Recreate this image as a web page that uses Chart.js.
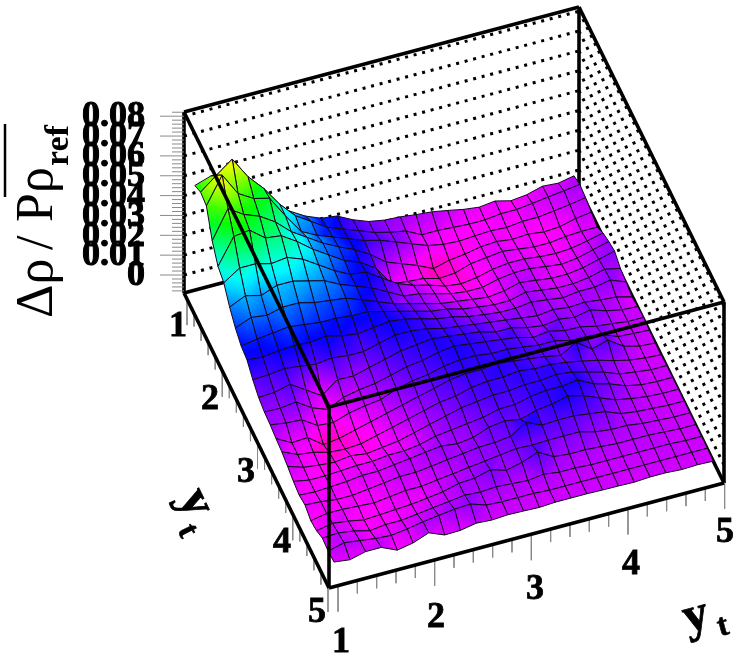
<!DOCTYPE html>
<html>
<head>
<meta charset="utf-8">
<style>
  html, body { margin: 0; padding: 0; background: #fff; }
  canvas { display: block; }
</style>
<script src="https://cdn.jsdelivr.net/npm/chart.js@4"></script>
</head>
<body>
<canvas id="myChart" width="738" height="657"></canvas>
<script>
// * Data: surface height in units of 0.001.
// The plot is symmetric in the two y_t axes, so each row starts on the diagonal.
const row00 = [47, 49.6, 48.6, 37, 30, 27.7, 21.4, 16.8, 13.6, 12.6, 8.6, 5.6, 4.2, 3.7, 2.7, 2, 0.6, -1, -2, -1, -3, -2.1, 0.1, -0.5, 1.1];
const row01 = [56, 62, 51, 43, 33, 25, 20, 15, 12, 9, 6, 4, 2.5, -1.5, -1.5, -2, -2.5, -2.5, -1.5, -1.5, -0.5, 0.6, 1.6, 2.7];
const row02 = [50.6, 46, 44, 33, 23, 19, 16, 13, 10, 8, 5, 2, -1, -2.5, -3, -2.5, -2, -2.5, -1.5, -1.5, -0.5, 0.6, 2];
const row03 = [43, 38, 31, 26, 21, 17, 13.5, 9, 3, 0, -3, -6.7, -4.6, -3.6, -2, -1.5, -2.5, -2, -3, -2.5, -0.5, 0.6];
const row04 = [37, 32, 26, 21, 16, 13, 8, -2, -3, -3.6, -5.7, -5.1, -2.5, -1.5, -0.5, -1.5, -2.5, -2.5, -1.5, -1, -1];
const row05 = [29, 24, 19, 15, 14, 9, 4, 1, -1, -3.6, -4.6, -3.6, -1.5, -0.5, -0.5, -1.5, -2, -1.5, 0.1, 2];
const row06 = [22, 18, 15, 12, 8, 3.7, 2.7, 0.6, -1.5, -2.5, -2.5, -0.5, 0.6, 0.6, -0.5, -1.5, -0.5, 1.6, 3.7];
const row07 = [17, 14.1, 11, 7.9, 5.8, 3.7, 1.6, 0.6, -0.5, -1.5, -0.5, 1.6, 0.6, -0.5, -0.5, 0.6, 2.7, 4.8];
const row08 = [14.1, 12, 10, 7.9, 5.8, 4.8, 2.7, 1.6, 0.6, 0.6, 2.7, 1.6, 0.6, 0.6, 1.6, 3.7, 2];
const row09 = [13, 12, 10, 7.9, 6.8, 4.8, 3.7, 2.7, 2.7, 3.7, 2.7, 1.6, 2.7, 2.7, 4.2, 1.1];
const row10 = [12, 11, 9, 7.9, 6.8, 5.8, 4.8, 3.7, 2.7, 3.7, 2.7, 3.2, 2.2, 1.6, -0.5];
const row11 = [12, 11, 10, 9, 6.8, 6.8, 4.8, 3.7, 4.8, 3.7, 5.3, 2.7, 1.1, 0.6];
const row12 = [12, 11, 10, 9, 7.9, 5.8, 6.8, 5, 4.8, 3, 2.2, 1.1, 1.1];
const row13 = [11, 10, 10, 9, 7.9, 7.9, 6, 5.8, 4.8, 1.6, 1.1, 0.6];
const row14 = [11, 10, 9, 8, 6.5, 11, 5.5, 7.9, 2.7, 0.6, 0.1];
const row15 = [11, 10, 10, 9, 7.5, 5.8, 3.5, 1.6, 0.6, 0.1];
const row16 = [10, 11, 10, 7.9, 5.8, 2.7, 1.6, 0.6, 0.6];
const row17 = [11, 12, 7.9, 5.8, 2.7, 1.1, 0.6, 0.6];
const row18 = [10, 6.8, 3.7, 2.2, 1.1, 0.6, 0.6];
const row19 = [5.8, 2.7, 1.6, 1.1, 0.6, 0.6];
const row20 = [2.7, 1.6, 1.1, 0.6, 0.6];
const row21 = [1.6, 1.1, 0.6, 0.6];
const row22 = [1.1, 0.6, 0.6];
const row23 = [0.6, 0.6];
const row24 = [0.6];
// The front edge of the surface.
const frontEdge = [0, -1, 1, 1, -2.5, -1, 2, -1.2, -1, 0.5, 0, 0.5, 0.3, 0, 0.5, 0.5, 0.5, 0.3, 0.2, 0, 0.5, 0.5, 0, 0.3, 0];

const rows = [row00, row01, row02, row03, row04, row05, row06, row07, row08, row09, row10, row11, row12,
  row13, row14, row15, row16, row17, row18, row19, row20, row21, row22, row23, row24];

const axisTicks = [1, 2, 3, 4, 5];
const axisMinorTicks = [1, 1.2, 1.4, 1.6, 1.8, 2, 2.2, 2.4, 2.6, 2.8, 3, 3.2, 3.4, 3.6, 3.8, 4, 4.2, 4.4, 4.6, 4.8, 5];
const zTicks = [0, 0.01, 0.02, 0.03, 0.04, 0.05, 0.06, 0.07, 0.08];
const zTickLabels = ["0", "0.01", "0.02", "0.03", "0.04", "0.05", "0.06", "0.07", "0.08"];

// * Geometry of the oblique box
const ZFLOOR = -18 / 1985;
const ZTOP = 163 / 1985;
const UNIT = 0.001;
const CELLS = 25;

function boxPoint(u, v, z) {
  return {
    x: 184 + 395 * u + 145 * v,
    y: 293 - 105 * u + 295 * v - 18 - 1985 * z,
  };
}

function surfaceHeight(i, j) {
  if (j === CELLS - 1) return frontEdge[i] * UNIT;
  return (i >= j ? rows[j][i - j] : rows[i][j - i]) * UNIT;
}

function surfacePoint(i, j) {
  return boxPoint((i + 0.5) / CELLS, (j + 0.5) / CELLS, surfaceHeight(i, j));
}

function heightColor(z) {
  return `hsl(${Math.max(290 - 3740 * z, 40)}, 100%, 50%)`;
}

function lineSet(points, color, width, dash) {
  return {
    data: points,
    borderColor: color,
    borderWidth: width,
    borderDash: dash || [],
    borderCapStyle: "butt",
    fill: false,
    pointRadius: 0,
    tension: 0,
  };
}

function cellSet(i, j) {
  const corners = [[i, j], [i + 1, j], [i + 1, j + 1], [i, j + 1]];
  const points = corners.map((c) => surfacePoint(c[0], c[1]));
  const heights = corners.map((c) => surfaceHeight(c[0], c[1]));
  const low = heights.indexOf(Math.min(...heights));
  const high = heights.indexOf(Math.max(...heights));
  points.push(points[0]);

  return {
    data: points,
    borderColor: "#14061c",
    borderWidth: 1,
    pointRadius: 0,
    tension: 0,
    fill: "shape",
    backgroundColor: (ctx) => {
      const { x, y } = ctx.chart.scales;
      const x0 = x.getPixelForValue(points[low].x);
      const y0 = y.getPixelForValue(points[low].y);
      const x1 = x.getPixelForValue(points[high].x);
      const y1 = y.getPixelForValue(points[high].y);
      // Flat cells, and the first pass when the scales have no size yet
      if (low === high || ![x0, y0, x1, y1].every(Number.isFinite)) return heightColor(heights[low]);

      const gradient = ctx.chart.ctx.createLinearGradient(x0, y0, x1, y1);
      [0, 0.25, 0.5, 0.75, 1].forEach((t) => {
        gradient.addColorStop(t, heightColor(heights[low] + (heights[high] - heights[low]) * t));
      });
      return gradient;
    },
  };
}

// * Layers, listed from back to front
const layers = [];
const BOX = "#000";
const TICK = "#8a8a8a";

function edge(u1, v1, z1, u2, v2, z2) {
  layers.push(lineSet([boxPoint(u1, v1, z1), boxPoint(u2, v2, z2)], BOX, 3.6));
}

zTicks.forEach((z) => {
  layers.push(lineSet([boxPoint(0, 0, z), boxPoint(1, 0, z)], "#000", 3, [3, 5.8]));
  layers.push(lineSet([boxPoint(1, 0, z), boxPoint(1, 1, z)], "#000", 3, [3, 5.8]));
});

edge(0, 0, ZFLOOR, 1, 0, ZFLOOR);
edge(1, 0, ZFLOOR, 1, 1, ZFLOOR);
edge(1, 0, ZFLOOR, 1, 0, ZTOP);
edge(0, 0, ZTOP, 1, 0, ZTOP);
edge(1, 0, ZTOP, 1, 1, ZTOP);
edge(0, 0, ZFLOOR, 0, 0, ZTOP);
edge(1, 1, ZFLOOR, 1, 1, ZTOP);

// Axis ticks hang below the floor edges
function xTickBase(yt) {
  return boxPoint(0.0228 + 0.2447 * (yt - 1), 1, ZFLOOR);
}
function yTickBase(yt) {
  return boxPoint(0, 0.0207 + 0.2431 * (yt - 1), ZFLOOR);
}
axisMinorTicks.forEach((yt) => {
  const len = axisTicks.includes(yt) ? 26 : 13;
  [xTickBase(yt), yTickBase(yt)].forEach((p) => {
    layers.push(lineSet([p, { x: p.x, y: p.y + len }], TICK, 1));
  });
});
for (let k = -4; k <= 41; k++) {
  const p = boxPoint(0, 0, k * 0.002);
  const len = k % 5 === 0 ? 24 : 12;
  layers.push(lineSet([{ x: p.x - len, y: p.y }, p], TICK, 1));
}

edge(0, 0, ZFLOOR, 0, 1, ZFLOOR);
edge(0, 1, ZFLOOR, 1, 1, ZFLOOR);

// Surface, far cells first
for (let j = 0; j < CELLS - 1; j++) {
  for (let i = CELLS - 2; i >= 0; i--) {
    layers.push(cellSet(i, j));
  }
}

// Edges of the box that cross in front of the surface
edge(0, 1, ZFLOOR, 0, 1, ZTOP);
edge(0, 0, ZTOP, 0, 1, ZTOP);
edge(0, 1, ZTOP, 1, 1, ZTOP);

// Bar over rho ref in the z title
layers.push(lineSet([{ x: 5, y: 197 }, { x: 5, y: 124 }], "#000", 2.5));

// * Text
const labelPlugin = {
  id: "labels",
  afterDraw(chart) {
    const { ctx, scales } = chart;

    function text(str, px, py, font, angle, align, baseline, heavy) {
      ctx.save();
      ctx.translate(scales.x.getPixelForValue(px), scales.y.getPixelForValue(py));
      ctx.rotate(((angle || 0) * Math.PI) / 180);
      ctx.font = font;
      ctx.fillStyle = "#000";
      ctx.strokeStyle = "#000";
      ctx.lineWidth = heavy || 0;
      ctx.textAlign = align || "center";
      ctx.textBaseline = baseline || "middle";
      ctx.fillText(str, 0, 0);
      if (heavy) ctx.strokeText(str, 0, 0);
      ctx.restore();
    }

    const tickFont = "bold 36px 'Liberation Serif'";
    zTicks.forEach((z, k) => {
      const p = boxPoint(0, 0, z);
      text(zTickLabels[k], 145, p.y + 1, tickFont, 0, "right", "middle", 1);
    });
    const xLabelPos = [[341, 643], [436, 618], [535, 590], [631, 565], [725, 533]];
    const yLabelPos = [[178, 327], [210, 400], [246, 473], [282, 543], [317, 613]];
    axisTicks.forEach((t, k) => {
      text(String(t), xLabelPos[k][0], xLabelPos[k][1], tickFont, 0, "center", "middle", 0.8);
      text(String(t), yLabelPos[k][0], yLabelPos[k][1], tickFont, 0, "center", "middle", 0.8);
    });

    const titleFont = "52px 'Liberation Serif'";
    text("\u0394\u03c1", 52, 318, titleFont, -90, "left", "alphabetic");
    text("/", 52, 250, titleFont, -90, "left", "alphabetic");
    text("P\u03c1", 52, 222, titleFont, -90, "left", "alphabetic");
    text("ref", 68, 166, "bold 34px 'Liberation Serif'", -90, "left", "alphabetic");

    text("y", 696, 617, "bold 50px 'Liberation Serif'", -15, "center", "middle", 0.8);
    text("t", 723, 627, "bold 32px 'Liberation Serif'", -15, "center", "middle", 0.6);
    text("y", 195, 503, "bold 50px 'Liberation Serif'", 64, "center", "middle", 0.8);
    text("t", 187, 531, "bold 32px 'Liberation Serif'", 64, "center", "middle", 0.6);
  },
};

// * Chart
new Chart(document.getElementById("myChart").getContext("2d"), {
  type: "line",
  data: { datasets: layers.reverse() },
  plugins: [labelPlugin],
  options: {
    responsive: false,
    animation: false,
    devicePixelRatio: 1,
    events: [],
    clip: false,
    layout: { padding: 0 },
    plugins: { legend: { display: false }, tooltip: { enabled: false } },
    scales: {
      x: { type: "linear", min: 0, max: 738, display: false },
      y: { type: "linear", min: 0, max: 657, reverse: true, display: false },
    },
  },
});
</script>
</body>
</html>
